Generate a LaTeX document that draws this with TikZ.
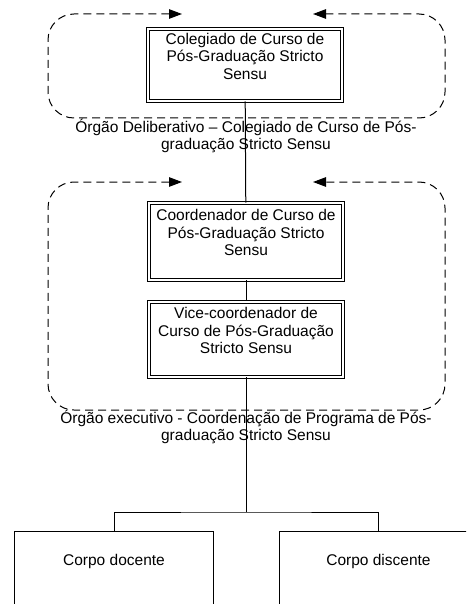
\documentclass[tikz,border=0pt]{standalone}
\usepackage{fontspec}
\setmainfont{Liberation Sans}
\usepackage{tikz}
\usetikzlibrary{arrows.meta, positioning}

\begin{document}
\begin{tikzpicture}[
        x=1pt, y=-1pt,
        every node/.style={font=\fontsize{15.5pt}{17.5pt}\selectfont},
        orgbox/.style={rectangle, draw, double, double distance=2pt, line width=0.9pt, minimum width=194pt, inner sep=3pt, align=center},
        unitbox/.style={rectangle, draw, line width=1pt, minimum width=199pt, inner sep=2pt, text height=32pt, text depth=45pt},
        loopend/.tip={Triangle[length=13pt,width=9.5pt]},
        loop/.style={dash pattern=on 8pt off 5pt, line width=1pt, rounded corners=26pt, loopend-loopend},
        caption/.style={align=center},
        link/.style={line width=1pt}
    ]
        \useasboundingbox (0,0) rectangle (466,604);
        \clip (0,0) rectangle (466,604);

        % Dashed groups
        \draw[loop] (182,14) -- (48,14) -- (48,118) -- (445,118) -- (445,14) -- (313,14);
        \draw[loop] (182,182) -- (48,182) -- (48,410) -- (445,410) -- (445,182) -- (313,182);

        % Nodes
        \node[orgbox, minimum height=72pt] (colegiado) at (245,65) {Colegiado de Curso de\\Pós-Graduação Stricto\\Sensu\\~};
        \node[orgbox, minimum height=77pt] (coordenador) at (246,241.5) {Coordenador de Curso de\\Pós-Graduação Stricto\\Sensu\\~};
        \node[orgbox, minimum height=75pt, below=21pt of coordenador] (vice) {Vice-coordenador de\\Curso de Pós-Graduação\\Stricto Sensu\\~};
        \node[unitbox, anchor=north] (docente) at (114,531) {Corpo docente};
        \node[unitbox, anchor=north] (discente) at (378.5,531) {Corpo discente};
        \coordinate (split) at (246,512);

        % Arrows
        \draw[link] (colegiado) -- (coordenador);
        \draw[link] (coordenador) -- (vice);
        \draw[link] (vice.south) -- (split);
        \draw[link] (docente.north) |- (split) -| (discente.north);

        % Captions
        \node[caption] (deliberativo) at (246,136) {Órgão Deliberativo – Colegiado de Curso de Pós-\\graduação Stricto Sensu};
        \node[caption] (executivo) at (246,427) {Órgão executivo - Coordenação de Programa de Pós-\\graduação Stricto Sensu};
    \end{tikzpicture}
\end{document}
